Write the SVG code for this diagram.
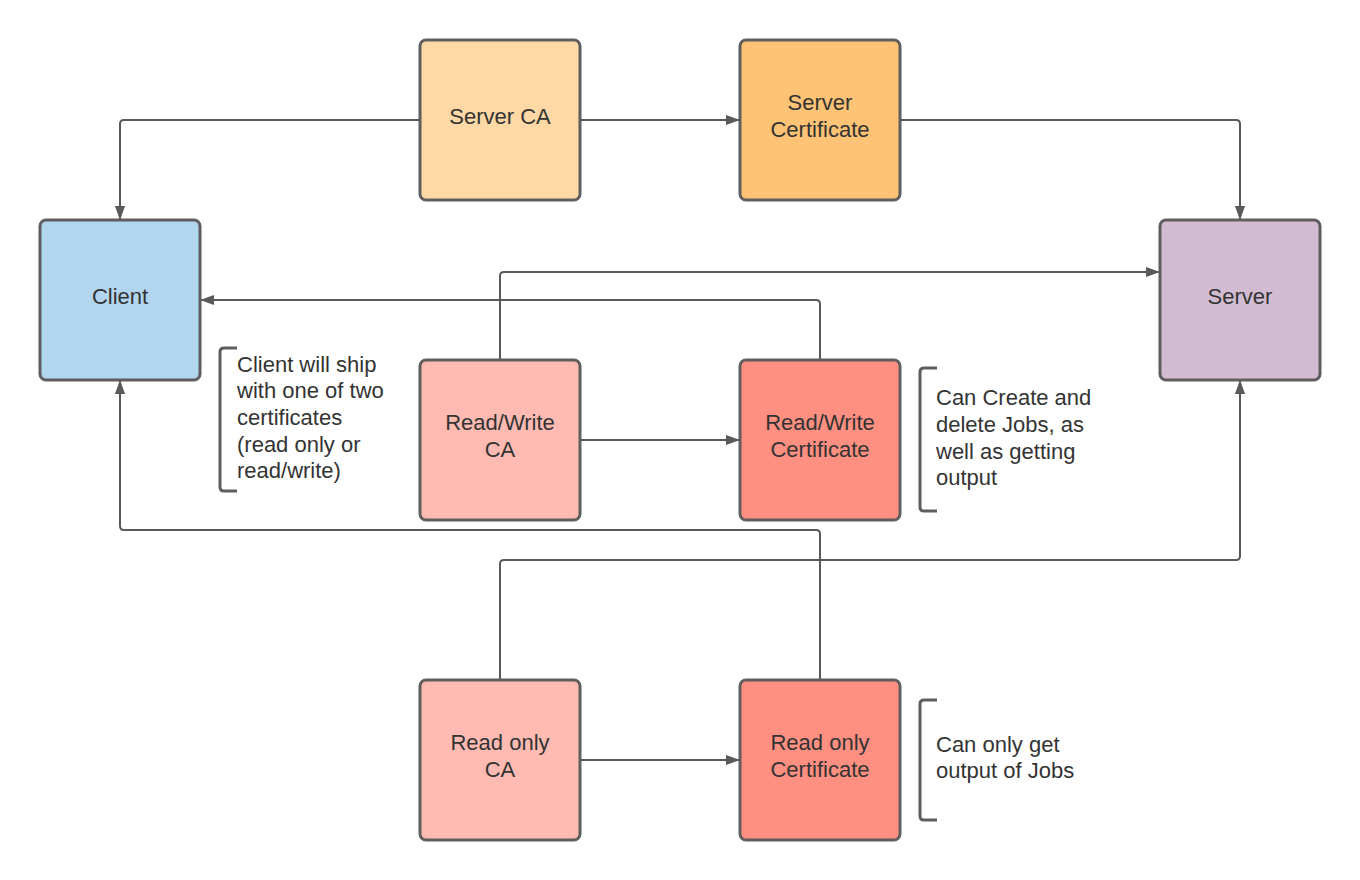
<svg xmlns="http://www.w3.org/2000/svg" width="1360" height="880" viewBox="0 0 1360 880">
<defs>
<marker id="arr" viewBox="0 0 14 10" refX="14" refY="5" markerWidth="14" markerHeight="10" markerUnits="userSpaceOnUse" orient="auto">
<path d="M0,0 L14,5 L0,10 Z" fill="#595959"/>
</marker>
</defs>
<style>
.n{stroke:#5e5e5e;stroke-width:3}
.t{font-family:"Liberation Sans",Arial,sans-serif;font-size:22px;fill:#333333;text-anchor:middle}
.a{font-family:"Liberation Sans",Arial,sans-serif;font-size:22px;fill:#333333}
.c{fill:none;stroke:#595959;stroke-width:2;marker-end:url(#arr)}
.b{fill:none;stroke:#5e5e5e;stroke-width:3}
</style>
<rect width="1360" height="880" fill="#ffffff"/>
<g id="connectors">
<path class="c" d="M420,120 H124 Q120,120 120,124 V220"/>
<path class="c" d="M580,120 H740"/>
<path class="c" d="M900,120 H1236 Q1240,120 1240,124 V220"/>
<path class="c" d="M500,360 V276 Q500,272 504,272 H1160"/>
<path class="c" d="M820,360 V304 Q820,300 816,300 H200"/>
<path class="c" d="M580,440 H740"/>
<path class="c" d="M820,680 V534 Q820,530 816,530 H124 Q120,530 120,526 V380"/>
<path class="c" d="M500,680 V564 Q500,560 504,560 H1236 Q1240,560 1240,556 V380"/>
<path class="c" d="M580,760 H740"/>
</g>
<g id="server-ca">
<rect class="n" x="420" y="40" width="160" height="160" rx="6" fill="#fed9a6"/>
<text class="t" x="500" y="124">Server CA</text>
</g>
<g id="server-certificate">
<rect class="n" x="740" y="40" width="160" height="160" rx="6" fill="#fec374"/>
<text class="t" x="820" y="110">Server</text>
<text class="t" x="820" y="137">Certificate</text>
</g>
<g id="client">
<rect class="n" x="40" y="220" width="160" height="160" rx="6" fill="#b3d6f0"/>
<text class="t" x="120" y="304">Client</text>
</g>
<g id="server">
<rect class="n" x="1160" y="220" width="160" height="160" rx="6" fill="#d2bcd2"/>
<text class="t" x="1240" y="304">Server</text>
</g>
<g id="rw-ca">
<rect class="n" x="420" y="360" width="160" height="160" rx="6" fill="#ffbbb1"/>
<text class="t" x="500" y="430">Read/Write</text>
<text class="t" x="500" y="457">CA</text>
</g>
<g id="rw-certificate">
<rect class="n" x="740" y="360" width="160" height="160" rx="6" fill="#ff8f80"/>
<text class="t" x="820" y="430">Read/Write</text>
<text class="t" x="820" y="457">Certificate</text>
</g>
<g id="ro-ca">
<rect class="n" x="420" y="680" width="160" height="160" rx="6" fill="#ffbbb1"/>
<text class="t" x="500" y="750">Read only</text>
<text class="t" x="500" y="777">CA</text>
</g>
<g id="ro-certificate">
<rect class="n" x="740" y="680" width="160" height="160" rx="6" fill="#ff8f80"/>
<text class="t" x="820" y="750">Read only</text>
<text class="t" x="820" y="777">Certificate</text>
</g>
<g id="note-client">
<path class="b" d="M237,348 H224 Q220,348 220,352 V487 Q220,491 224,491 H237"/>
<text class="a" x="237" y="372">Client will ship</text>
<text class="a" x="237" y="398">with one of two</text>
<text class="a" x="237" y="425">certificates</text>
<text class="a" x="237" y="452">(read only or</text>
<text class="a" x="237" y="478">read/write)</text>
</g>
<g id="note-rw">
<path class="b" d="M937,368 H924 Q920,368 920,372 V507 Q920,511 924,511 H937"/>
<text class="a" x="936" y="405">Can Create and</text>
<text class="a" x="936" y="432">delete Jobs, as</text>
<text class="a" x="936" y="459">well as getting</text>
<text class="a" x="936" y="485">output</text>
</g>
<g id="note-ro">
<path class="b" d="M937,700 H924 Q920,700 920,704 V816 Q920,820 924,820 H937"/>
<text class="a" x="936" y="752">Can only get</text>
<text class="a" x="936" y="778">output of Jobs</text>
</g>
</svg>
